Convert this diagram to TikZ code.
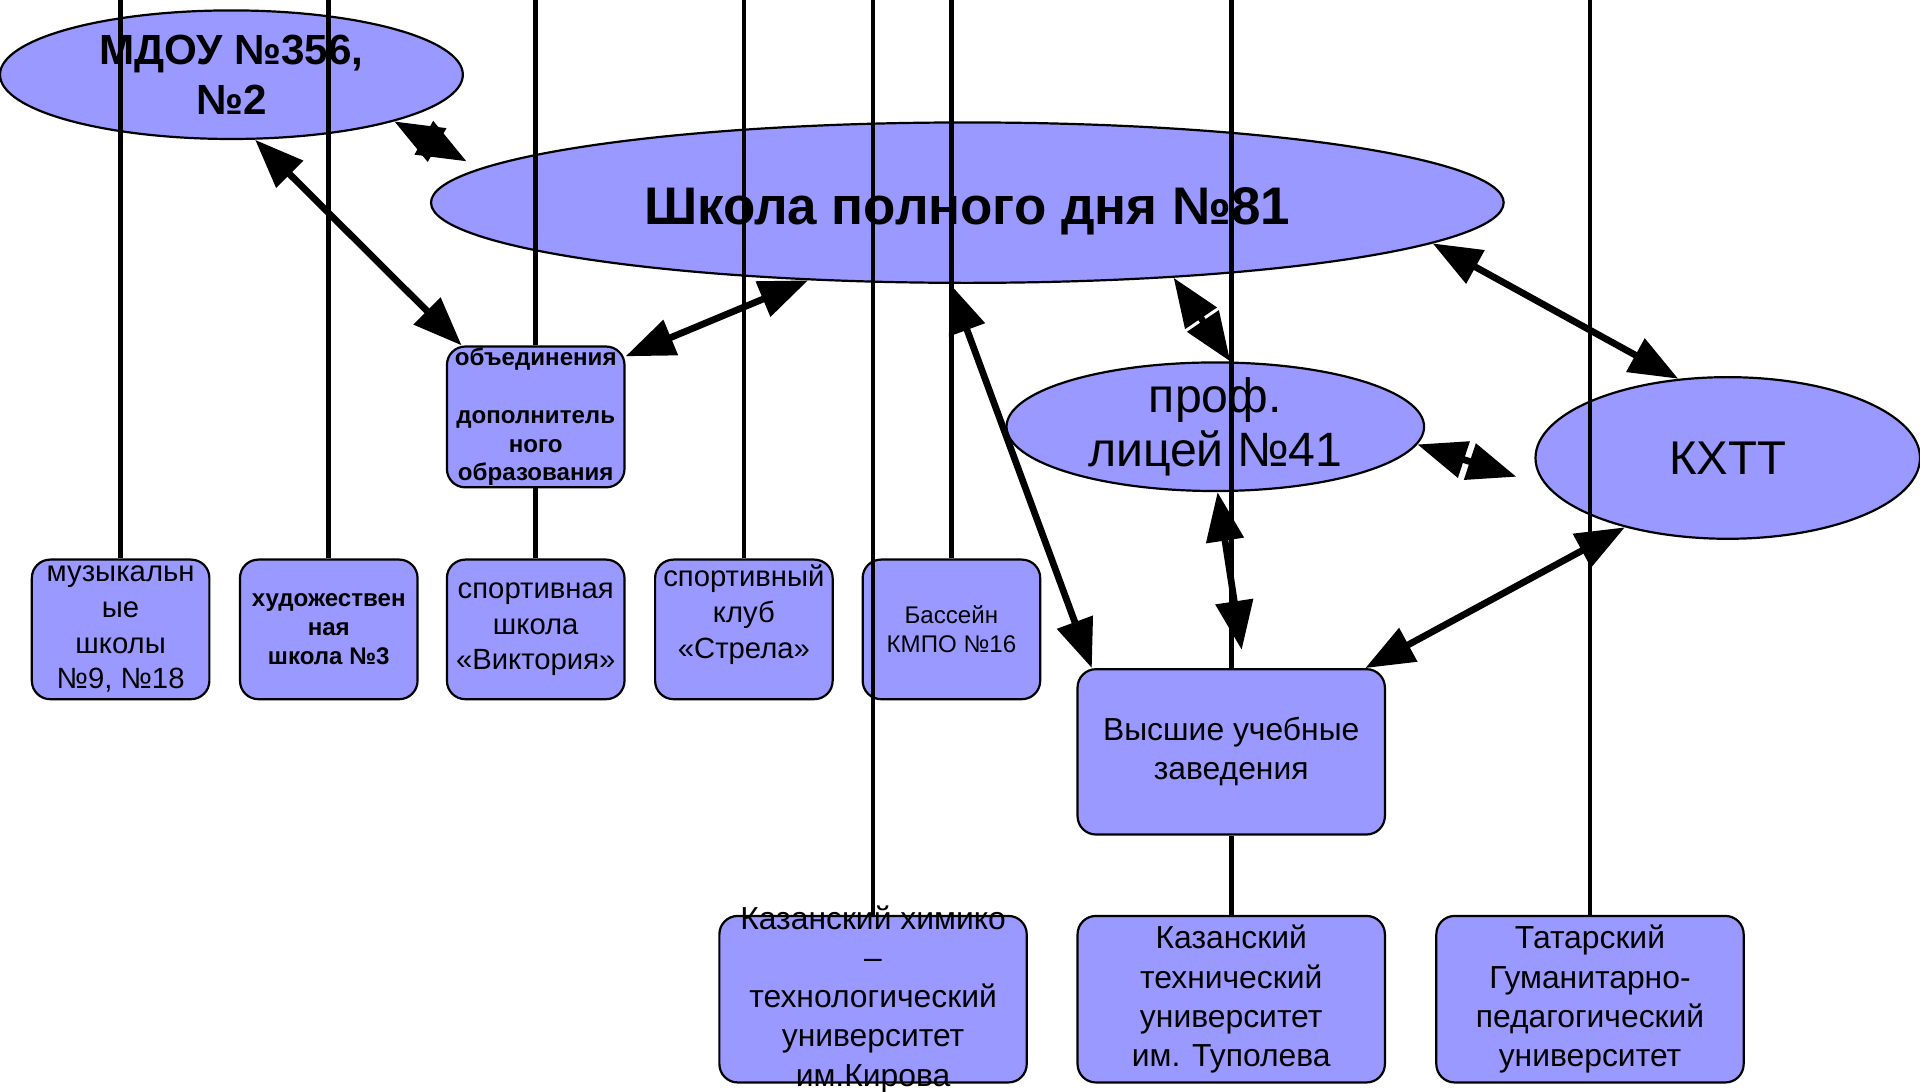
\documentclass[tikz,border=0pt]{standalone}
\usepackage{fontspec}
\setmainfont{Liberation Sans}
\usetikzlibrary{shapes.geometric,arrows.meta}
\definecolor{lilac}{RGB}{153,153,255}

\begin{document}
\begin{tikzpicture}[
	x=0.1mm, y=-0.1mm,
	every node/.style={align=center},
	oval/.style={draw, ellipse, fill=lilac, line width=0.18mm, inner sep=-1mm},
	roundbox/.style={draw, rounded corners=1.5mm, fill=lilac, line width=0.18mm, inner xsep=0pt, inner ysep=-2mm, minimum width=14.5mm, minimum height=11.4mm},
	widebox/.style={roundbox, minimum width=25.1mm, minimum height=13.6mm, font=\fontsize{7.4}{9.1}\selectfont},
	smalltext/.style={font=\fontsize{6.8}{8.3}\selectfont},
	tinytext/.style={font=\fontsize{5.6}{6.8}\selectfont},
	tinybold/.style={font=\bfseries\fontsize{5.6}{6.7}\selectfont},
	link/.style={line width=0.55mm, {Triangle[length=4mm,width=3mm]}-{Triangle[length=4mm,width=3mm]}},
	vline/.style={line width=0.38mm}
	]
	\useasboundingbox (0,0) rectangle (1568,891);
	
	% Ellipses
	\node[oval, minimum width=37.8mm, minimum height=10.5mm, font=\bfseries\fontsize{9.8}{11.6}\selectfont] (mdou) at (189,61) {МДОУ №356,\\№2};
	\node[oval, minimum width=87.6mm, minimum height=13.1mm, text height=3.5mm, text depth=0mm, font=\bfseries\fontsize{12.3}{14}\selectfont] (school) at (790,165.5) {Школа полного дня №81};
	\node[oval, minimum width=34.1mm, minimum height=10.5mm, font=\fontsize{11.2}{12.7}\selectfont] (lyceum) at (992.5,348.5) {проф.\\лицей №41};
	\node[oval, minimum width=31.4mm, minimum height=13.2mm, font=\fontsize{11}{13}\selectfont] (kxtt) at (1411,374) {КХТТ};
	
	% Boxes
	\node[roundbox, tinybold, minimum height=11.5mm] (extra) at (437.5,340.5) {объединения\\\mbox{}\\дополнитель\\ного\\образования};
	\node[roundbox, smalltext] (music) at (98.5,514) {музыкальн\\ые\\школы\\№9, №18};
	\node[roundbox, tinybold] (art) at (268.5,514) {художествен\\ная\\школа №3};
	\node[roundbox, smalltext] (sport) at (437.5,514) {спортивная\\школа\\«Виктория»};
	\node[roundbox, smalltext] (club) at (607.5,514) {спортивный\\клуб\\«Стрела»\\\mbox{}};
	\node[roundbox, tinytext] (pool) at (777,514) {Бассейн\\КМПО №16};
	\node[widebox, minimum height=13.5mm] (vuz) at (1005.5,614) {Высшие учебные\\заведения};
	\node[widebox] (khim) at (713,816) {Казанский химико\\–\\технологический\\университет\\им.Кирова};
	\node[widebox] (ktu) at (1005.5,816) {Казанский\\технический\\университет\\им. Туполева};
	\node[widebox] (tatar) at (1298.5,816) {Татарский\\Гуманитарно-\\педагогический\\университет};
	
	% Vertical lines from the top edge
	\coordinate (top) at (0,0);
	\draw[vline] (music.north |- top) -- (music.north);
	\draw[vline] (art.north |- top) -- (art.north);
	\draw[vline] (extra.north |- top) -- (extra.north);
	\draw[vline] (extra.south) -- (sport.north);
	\draw[vline] (club.north |- top) -- (club.north);
	\draw[vline] (khim.north |- top) -- (khim.north);
	\draw[vline] (pool.north |- top) -- (pool.north);
	\draw[vline] (vuz.north |- top) -- (vuz.north);
	\draw[vline] (vuz.south) -- (ktu.north);
	\draw[vline] (tatar.north |- top) -- (tatar.north);
	
	% Double arrows
	\draw[link, shorten >=1.2mm] (mdou.-16) -- (school.176);
	\draw[link] (mdou.-70) -- (extra.136);
	\draw[link] (extra.34) -- (school.206);
	\draw[link] (school.258) -- (vuz.149);
	\draw[link] (school.-20) -- (lyceum.77);
	\draw[link] (school.-5) -- (kxtt.122);
	\draw[link, shorten >=2.6mm] (lyceum.-5) -- (kxtt.189);
	\draw[link, shorten >=1.5mm] (lyceum.-88) -- (vuz.81);
	\draw[link] (kxtt.214) -- (vuz.32.6);
	
\end{tikzpicture}
\end{document}
